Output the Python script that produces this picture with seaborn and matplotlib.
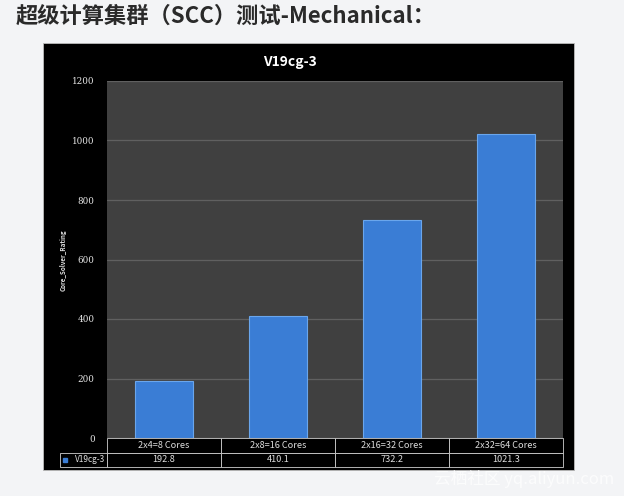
"""
Bar chart of the V19cg-3 Mechanical benchmark on the SCC cluster,
with the data table drawn under the bars.
"""
import seaborn as sns
import matplotlib.pyplot as plt
import matplotlib.patches as mpatches
import pandas as pd

# data
categories = ["2x4=8 Cores", "2x8=16 Cores", "2x16=32 Cores", "2x32=64 Cores"]
ratings = [192.8, 410.1, 732.2, 1021.3]
series_name = "V19cg-3"
y_ticks = [0, 200, 400, 600, 800, 1000, 1200]

sns.set_theme(style="dark")
plt.rcParams['font.family'] = ['Noto Sans CJK SC', 'DejaVu Sans']

W, H = 624, 496
fig = plt.figure(figsize=(W / 100, H / 100), dpi=100)
fig.patch.set_facecolor("#f3f4f6")

# black chart panel behind everything
panel = mpatches.Rectangle((43 / W, 1 - 470 / H), (574 - 43) / W, (470 - 43) / H,
                           transform=fig.transFigure, facecolor="black",
                           edgecolor="#bbbbbb", linewidth=0.6, zorder=-5)
fig.patches.append(panel)

ax = fig.add_axes([107 / W, 1 - 438 / H, (563 - 107) / W, (438 - 81) / H])
ax.set_facecolor("#404040")

df = pd.DataFrame({"config": categories, "rating": ratings})
sns.barplot(data=df, x="config", y="rating", color="#3a7dd5", width=0.51,
            saturation=1, edgecolor="#6aa6ec", linewidth=0.8, ax=ax, zorder=3)

ax.set_xlim(-0.5, len(categories) - 0.5)
ax.set_ylim(0, 1200)
ax.set_yticks(y_ticks)
ax.set_yticklabels([str(t) for t in y_ticks], fontsize=6.3, color="#e8e8e8",
                   family="DejaVu Serif")
ax.tick_params(axis="y", length=0, pad=9)
ax.set_xticks([])
ax.set_xlabel("")
ax.set_ylabel("")
ax.grid(axis="y", color="#606060", linewidth=0.9, zorder=1)
ax.grid(axis="x", visible=False)
for side in ax.spines.values():
    side.set_visible(False)

# data table under the axes
label_w = 47 / 456
cell_w = 1 / 4
tbl = ax.table(cellText=[[""] + categories,
                         [series_name] + [str(v) for v in ratings]],
               colWidths=[label_w] + [cell_w] * 4,
               bbox=[-label_w, -29 / 357, 1 + label_w, 29 / 357],
               cellLoc="center")
tbl.auto_set_font_size(False)
for (r, c), cell in tbl.get_celld().items():
    cell.set_facecolor("black")
    cell.set_edgecolor("#d0d0d0")
    cell.set_linewidth(0.6)
    cell.get_text().set_fontsize(6.6)
    cell.get_text().set_color("#dcdcdc")
    if r == 0 and c == 0:
        cell.visible_edges = ""
    if c == 0:
        cell.get_text().set_ha("right")
        cell.get_text().set_fontsize(6.0)
        cell.PAD = 0.03
# legend key square in the row label cell
ax.plot([-label_w + 0.011], [-22 / 357], marker="s", markersize=3,
        color="#3a7dd5", transform=ax.transAxes, clip_on=False, zorder=5)

# titles
fig.text(290 / W, 1 - 62 / H, "V19cg-3", color="white", fontsize=10,
         fontweight="bold", ha="center", va="center")
fig.text(63 / W, 1 - 260 / H, "Core_Solver_Rating", color="#e0e0e0",
         fontsize=4.5, fontweight="bold", rotation=90, ha="center", va="center")
fig.text(16 / W, 1 - 16 / H, "超级计算集群（SCC）测试-Mechanical：",
         color="#2a2a2a", fontsize=16, fontweight="bold", ha="left", va="center")

# faint watermark
fig.text(614 / W, 1 - 479 / H, "云栖社区 yq.aliyun.com", color="white",
         alpha=0.75, fontsize=12, ha="right", va="center")

fig.savefig("out.png", dpi=100, facecolor=fig.get_facecolor())
